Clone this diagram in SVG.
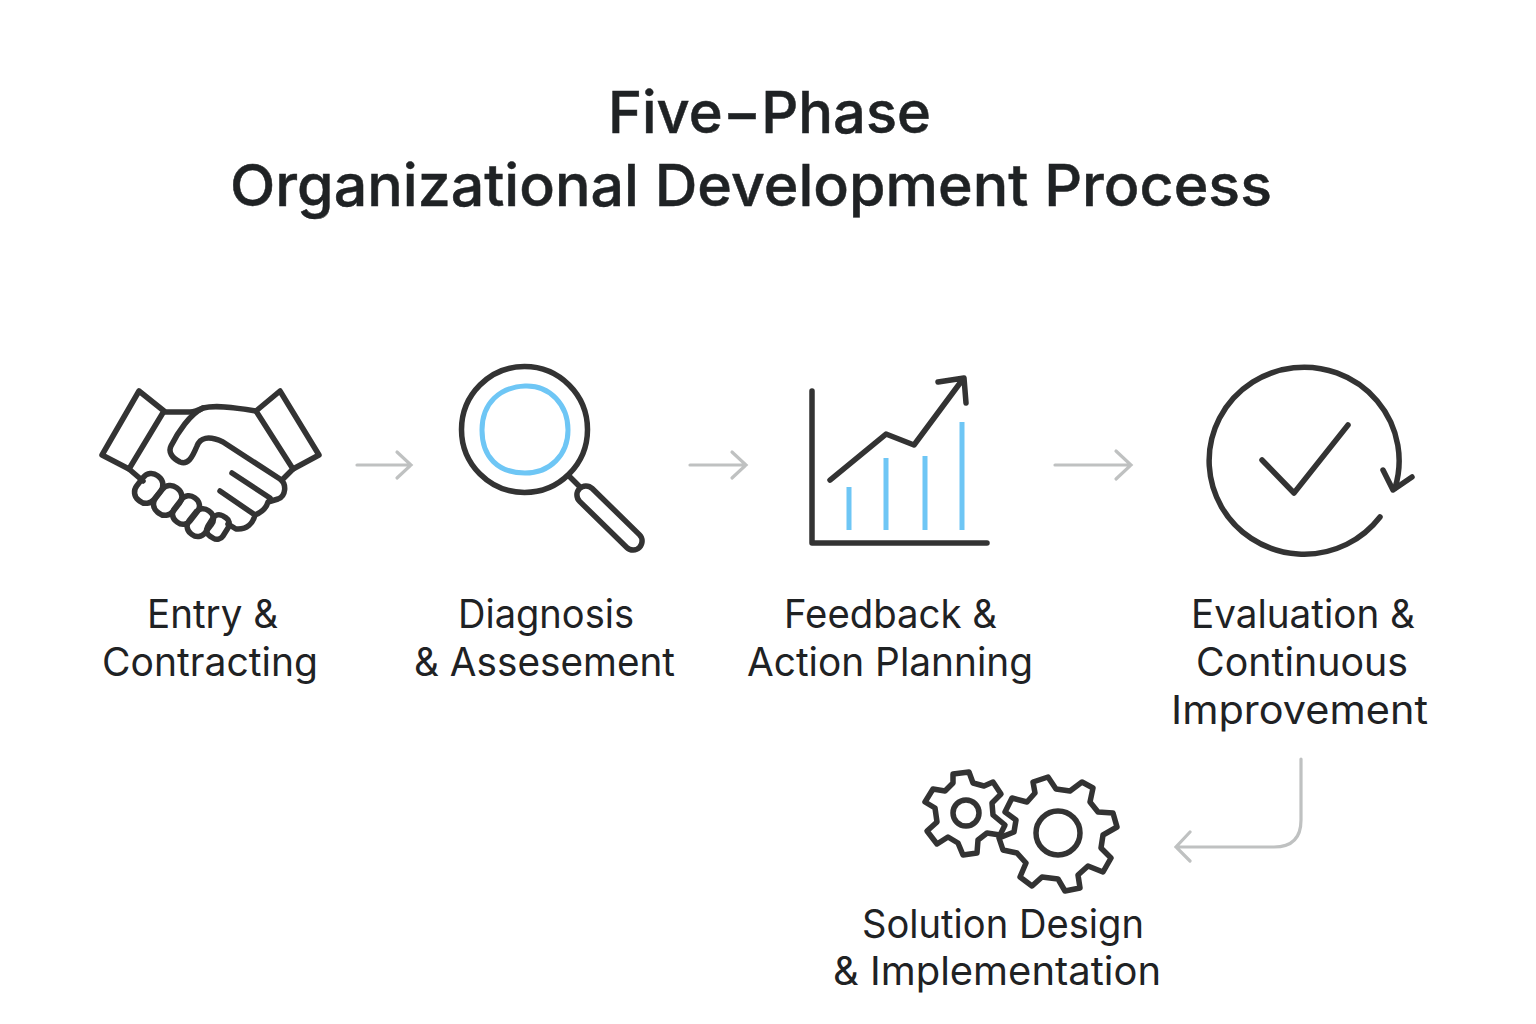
<svg xmlns="http://www.w3.org/2000/svg" width="1536" height="1024" viewBox="0 0 1536 1024">
<style>
.t{font-family:Inter,"Noto Sans",sans-serif;font-size:58px;font-weight:500;fill:#1f2224;stroke:#1f2224;stroke-width:.5;text-anchor:middle}
.l{font-family:Inter,"Noto Sans",sans-serif;font-size:39px;font-weight:400;fill:#1f2224;text-anchor:middle}
.i{fill:none;stroke:#333;stroke-width:5.5;stroke-linejoin:round;stroke-linecap:round}
.b{fill:none;stroke:#6ec6f5;stroke-width:5}
.c{fill:none;stroke:#bfc1c1;stroke-width:3.2;stroke-linecap:round}
</style>
<rect width="1536" height="1024" fill="#fff"/>
<g id="title">
<text class="t" x="769.5" y="133" textLength="323" lengthAdjust="spacingAndGlyphs">Five−Phase</text>
<text class="t" x="751" y="206" textLength="1042" lengthAdjust="spacingAndGlyphs">Organizational Development Process</text>
</g>
<g id="connectors">
<path class="c" d="M357 465H411M397 452L411 465L397 478"/>
<path class="c" d="M690 465H746M732 452L746 465L732 478"/>
<path class="c" d="M1055 465H1131M1116 451L1131 465L1116 479"/>
<path class="c" d="M1301 759V820Q1301 847 1274 847H1176M1190 832L1176 847L1190 861"/>
</g>
<g id="node-entry">
<path class="i" d="M139 391L164 411L129 469L102 455ZM280 391L256 411L293 469L319 455Z"/>
<path class="i" d="M164 412H190C195 412 199 410 203 408C215 405 232 407 256 411M129 469L143 481M293 469L282 480"/>
<path class="i" d="M203 408C190 414 178 432 171 446C168 452 172 458 180 462C188 465 192 458 197 446C200 438 208 435 223 442L280 479C287 484 286 496 278 499L268 502C266 509 260 513 255 515C253 523 247 530 236 529L228 524M232 473L270 498M220 491L255 515"/>
<rect class="i" x="138" y="473" width="22" height="31" rx="10" transform="rotate(38 149 488)"/>
<rect class="i" x="157" y="485" width="22" height="31" rx="10" transform="rotate(38 168 500)"/>
<rect class="i" x="176" y="495" width="20" height="30" rx="9" transform="rotate(38 186 510)"/>
<rect class="i" x="190" y="508" width="20" height="29" rx="9" transform="rotate(38 200 523)"/>
<rect class="i" x="209" y="515" width="18" height="24" rx="7" transform="rotate(32 218 527)"/>
<text class="l" x="212.500" y="627.500" textLength="131" lengthAdjust="spacingAndGlyphs">Entry &amp;</text>
<text class="l" x="210" y="675.500" textLength="216" lengthAdjust="spacingAndGlyphs">Contracting</text>
</g>
<g id="node-diagnosis">
<circle class="i" cx="524.500" cy="429.500" r="63"/>
<path class="b" d="M525 386C550 385 568 405 568 430C568 455 550 473 525 473C498 473 482 457 482 430C482 403 500 387 525 386Z"/>
<path class="i" d="M569 476L579 486"/>
<rect class="i" x="567.500" y="509" width="84" height="18" rx="9" transform="rotate(44.400 609.500 518)"/>
<text class="l" x="546" y="627.500" textLength="176" lengthAdjust="spacingAndGlyphs">Diagnosis</text>
<text class="l" x="544.500" y="675.500" textLength="261" lengthAdjust="spacingAndGlyphs">&amp; Assesement</text>
</g>
<g id="node-feedback">
<path class="i" d="M812 391V543H987"/>
<path class="b" d="M849 487V530M886 458V530M925 456V530M962 422V530"/>
<path class="i" stroke-linecap="butt" stroke-linejoin="miter" d="M830 480L886 434L914 445L963 379M938 382L964 378L966 403"/>
<text class="l" x="890.500" y="627.500" textLength="213" lengthAdjust="spacingAndGlyphs">Feedback &amp;</text>
<text class="l" x="890" y="675.500" textLength="286" lengthAdjust="spacingAndGlyphs">Action Planning</text>
</g>
<g id="node-evaluation">
<path class="i" stroke-width="5" d="M1380 517A95 93.500 0 1 1 1395 488"/>
<path class="i" d="M1383 470L1393 490L1412 477M1262 460L1294 493L1348 425"/>
<text class="l" x="1303" y="627.500" textLength="224" lengthAdjust="spacingAndGlyphs">Evaluation &amp;</text>
<text class="l" x="1302" y="675.500" textLength="212" lengthAdjust="spacingAndGlyphs">Continuous</text>
<text class="l" x="1299.500" y="723.500" textLength="257" lengthAdjust="spacingAndGlyphs">Improvement</text>
</g>
<g id="node-solution">
<path class="i" stroke-linecap="butt" d="M953 774L969 772L973 783L984 786L993 782L1001 794L992 803L993 815L1005 825L1000 835L987 833L978 840L977 853L963 855L958 843L948 837L937 844L927 831L937 822L935 808L925 802L933 789L945 791L953 783Z"/>
<circle class="i" cx="966" cy="813" r="13" stroke-width="5"/>
<path class="i" d="M1033 782L1048 777L1056 789L1070 791L1082 782L1093 788L1090 802L1098 812L1113 813L1117 827L1103 835L1101 848L1111 858L1103 872L1088 866L1078 875L1080 888L1065 891L1058 879L1042 877L1032 886L1020 877L1026 863L1017 853L1003 850L999 838L1014 832L1016 820L1005 812L1012 798L1027 802L1035 793Z"/>
<circle class="i" cx="1058" cy="833" r="22" stroke-width="6"/>
<text class="l" x="1003" y="937.500" textLength="282" lengthAdjust="spacingAndGlyphs">Solution Design</text>
<text class="l" x="997" y="984.500" textLength="328" lengthAdjust="spacingAndGlyphs">&amp; Implementation</text>
</g>
</svg>
